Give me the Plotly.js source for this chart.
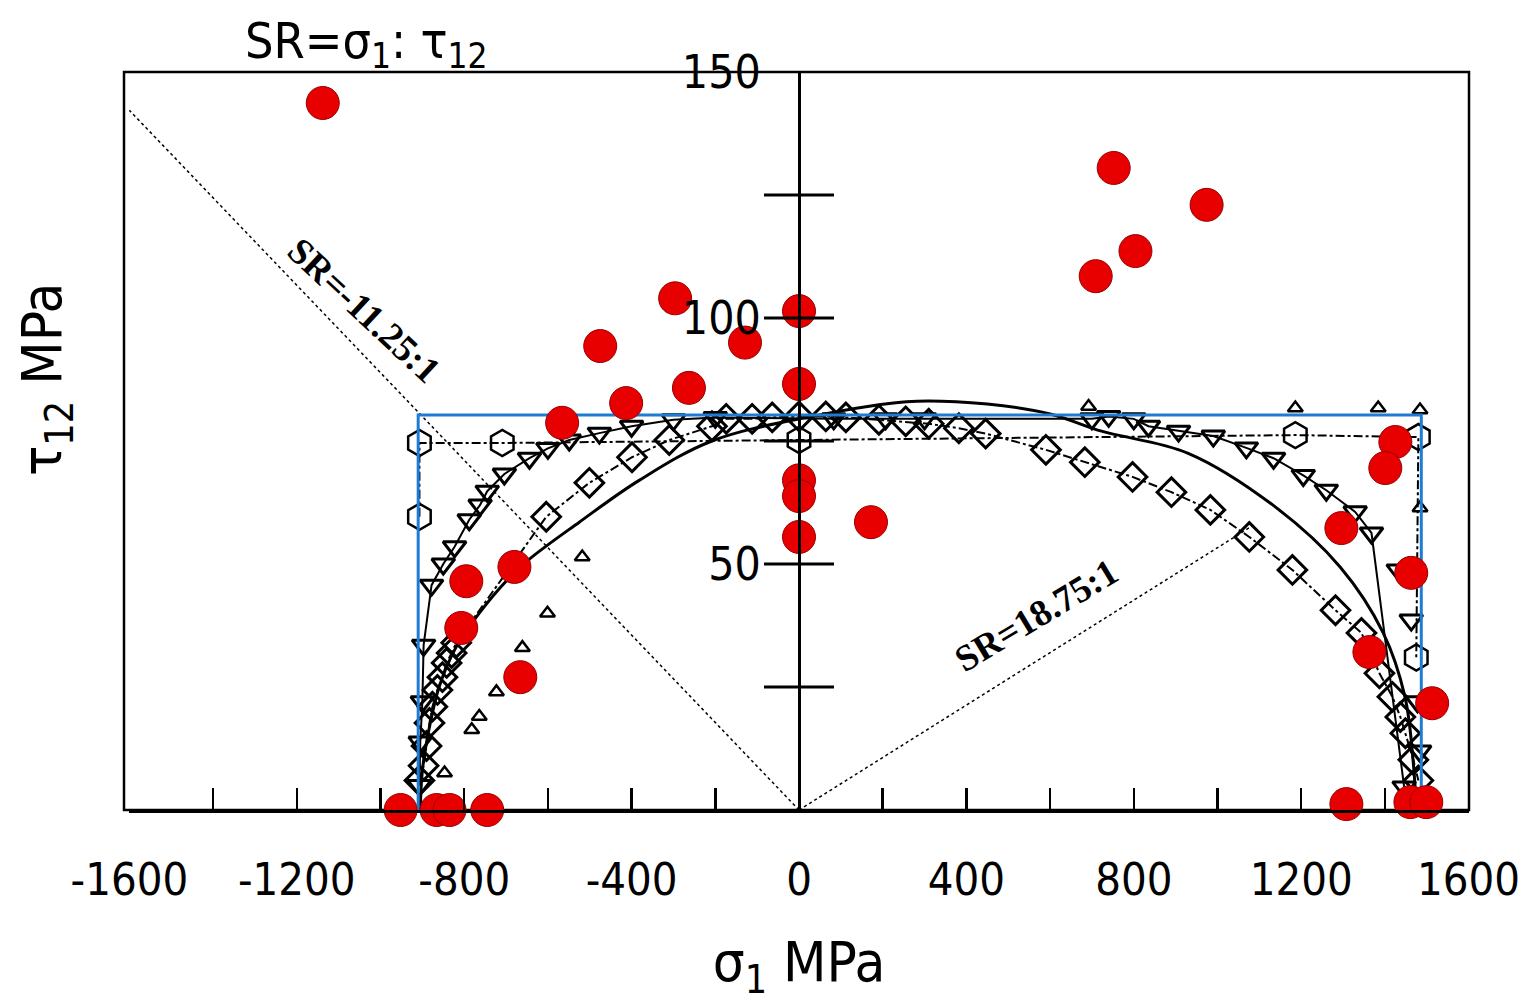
<!DOCTYPE html>
<html>
<head>
<meta charset="utf-8">
<script src="https://cdn.plot.ly/plotly-3.0.1.min.js"></script>
<style>html,body{margin:0;padding:0;background:#fff}#chart{width:1519px;height:1002px}</style>
</head>
<body>
<div id="chart"></div>
<script>
// ---- data ----
const xTickVals = [-1600, -1200, -800, -400, 0, 400, 800, 1200, 1600];
const xTickText = ["-1600", "-1200", "-800", "-400", "0", "400", "800", "1200", "1600"];
const yTickVals = [50, 100, 150];
const yTickText = ["50", "100", "150"];
const yCrossTicks = [25, 50, 75, 100, 125];

// stress-ratio guide lines (SR = sigma1 : tau12)
const srLeftX = [0, -1600];
const srLeftY = [0, 142.2];
const srRightX = [0, 1086];
const srRightY = [0, 57.9];

// experimental points (red)
const redX = [-1138, 752, 974, 804, 709, -296, 0, -475, -129, -263, 0, -413, -566, 1425, 1401, 0, 0, 172, 1296, 0, -680, -795, 1463, -807, 1363, -666, 1513, -952, -866, -835, -745, 1308, 1461, 1499];
const redY = [143.7, 130.5, 123, 113.6, 108.5, 104, 101.4, 94.3, 95, 85.8, 86.6, 82.7, 78.7, 74.8, 69.5, 67, 63.8, 58.5, 57.3, 55.5, 49.4, 46.5, 48.2, 37, 32.1, 27, 21.7, 0, 0, 0, 0, 1.2, 1.6, 1.6];

// blue envelope (max-stress box)
const boxX = [-910, -910, 1487, 1487];
const boxY = [0, 80.3, 80.3, 0];

// theory: hexagons (dash-dot)
const hexX = [-907, -907, -709, 0, 1186, 1480, 1475];
const hexY = [59.6, 74.6, 74.6, 75.2, 76.2, 75.8, 31];

// theory: down-triangles (solid)
const dtriX = [-907, -905, -900, -897, -878, -850, -823, -788, -762, -745, -704, -644, -600, -549, -477, -400, -300, -200, 83, 207, 300, 700, 740, 800, 835, 907, 990, 1069, 1134, 1205, 1260, 1329, 1368, 1446];
const dtriY = [5, 13.8, 22, 33.5, 45.7, 50, 53.5, 59, 62, 64.8, 68.3, 71.5, 73.5, 75.2, 76.6, 78, 79.3, 79.8, 79.5, 79.5, 79.5, 79.5, 80, 79.5, 78, 77, 76, 73.6, 71.5, 68, 65, 60.6, 56.3, 4.7];
const dtriExtraX = [1432, 1463, 1478, 1483];
const dtriExtraY = [48.8, 38.6, 22, 12];

// theory: diamonds (dash-dot)
const diaX = [-907, -897, -890, -883, -876, -864, -852, -842, -830, -819, -604, -501, -399, -310, -208, -174, -112, -64, 0, 64, 112, 191, 255, 310, 382, 446, 590, 683, 797, 890, 983, 1076, 1179, 1282, 1344, 1387, 1418, 1437, 1449, 1468, 1480];
const diaY = [6, 9, 13, 17.7, 21, 24.4, 27, 29.9, 31.9, 34, 59.6, 66.5, 71.7, 75.2, 78, 79.5, 79.5, 79.8, 80, 80, 79.8, 79.3, 79, 78.5, 77.6, 76.5, 73.2, 70.7, 67.7, 64.6, 61, 55.5, 48.8, 40.6, 36, 27.8, 23, 18.9, 15.6, 10.2, 6];

// theory: small up-triangles
const utriX = [-847, -782, -764, -723, -661, -601, -518, 692, 1186, 1384, 1484, 1484];
const utriY = [7.5, 16.3, 19, 24, 33, 40, 51.4, 82, 81.7, 81.7, 81.3, 61.4];

// theory: smooth solid curve
const curveX = [-905, -900, -885, -860, -820, -764, -700, -644, -525, -382, -208, 31, 257, 450, 600, 723, 930, 1138, 1293, 1396, 1448, 1468, 1475];
const curveY = [0, 8, 16, 25, 33, 40, 46.5, 51, 58.5, 67, 75, 80, 83, 82.5, 80.5, 77, 72.5, 61.6, 49.4, 36, 23, 9.5, 0];

// ---- chart ----
const FONT = "'DejaVu Sans Condensed', 'Liberation Sans', Arial, sans-serif";
const SERIF = "'Liberation Serif', 'Times New Roman', serif";

const traces = [
  {x: srLeftX, y: srLeftY, mode: 'lines', line: {color: '#000', width: 1.5, dash: 'dot'}, hoverinfo: 'skip'},
  {x: srRightX, y: srRightY, mode: 'lines', line: {color: '#000', width: 1.5, dash: 'dot'}, hoverinfo: 'skip'},
  {x: curveX, y: curveY, mode: 'lines', line: {color: '#000', width: 3, shape: 'spline'}},
  {x: hexX, y: hexY, mode: 'lines+markers', line: {color: '#000', width: 2, dash: 'dashdot'},
   marker: {symbol: 'hexagon-open', size: 26, color: '#000', line: {width: 2.5}}},
  {x: dtriX, y: dtriY, mode: 'lines+markers', line: {color: '#000', width: 2},
   marker: {symbol: 'triangle-down-open', size: 20, color: '#000', line: {width: 3}}},
  {x: dtriExtraX, y: dtriExtraY, mode: 'markers',
   marker: {symbol: 'triangle-down-open', size: 20, color: '#000', line: {width: 3}}},
  {x: diaX, y: diaY, mode: 'lines+markers', line: {color: '#000', width: 2, dash: 'dashdot'},
   marker: {symbol: 'diamond-open', size: 22, color: '#000', line: {width: 3}}},
  {x: utriX, y: utriY, mode: 'markers',
   marker: {symbol: 'triangle-up-open', size: 13, color: '#000', line: {width: 2.5}}},
  {x: boxX, y: boxY, mode: 'lines', line: {color: 'rgb(30,125,210)', width: 3}},
  {x: redX, y: redY, mode: 'markers', cliponaxis: false,
   marker: {symbol: 'circle', size: 33, color: 'rgb(232,0,0)', line: {color: 'rgb(150,0,0)', width: 1}}},
  // crossing ticks on the sigma1 = 0 axis
  {x: yCrossTicks.map(() => 0), y: yCrossTicks, mode: 'markers', cliponaxis: false,
   marker: {symbol: 'line-ew', size: 50, line: {color: '#000', width: 3}}}
];

const L = 129, R = 50, T = 72, B = 192;
const layout = {
  width: 1519, height: 1002,
  paper_bgcolor: '#fff', plot_bgcolor: '#fff',
  showlegend: false,
  margin: {l: L, r: R, t: T, b: B},
  font: {family: FONT, color: '#000', size: 46},
  title: {
    text: 'SR=σ<sub>1</sub>: τ<sub>12</sub>',
    font: {family: FONT, size: 50, color: '#000'},
    x: 245 / 1519, xref: 'container', xanchor: 'left',
    y: 1 - 40 / 1002, yref: 'container', yanchor: 'middle'
  },
  xaxis: {
    range: [-1601, 1601],
    tickvals: xTickVals, ticktext: xTickText,
    ticklabeloverflow: 'allow',
    ticks: 'inside', ticklen: 22, tickwidth: 2.5, tickcolor: '#000',
    minor: {dtick: 200, tick0: 0, ticks: 'inside', ticklen: 22, tickwidth: 2.5, tickcolor: '#000'},
    showgrid: false, zeroline: false,
    showline: true, linecolor: '#000', linewidth: 3,
    tickfont: {family: FONT, size: 45, color: '#000'},
    ticklabelstandoff: 28,
    title: {text: 'σ<sub>1</sub> MPa', font: {family: FONT, size: 56, color: '#000'}, standoff: 42}
  },
  yaxis: {
    range: [0, 150],
    anchor: 'free', position: 0.5,
    tickvals: yTickVals, ticktext: yTickText,
    ticks: '', showgrid: false, zeroline: false,
    showline: true, linecolor: '#000', linewidth: 3,
    tickfont: {family: FONT, size: 46, color: '#000'},
    ticklabelstandoff: 28,
    title: {text: ''}
  },
  shapes: [
    {type: 'rect', xref: 'paper', yref: 'paper', x0: -5 / (1519 - L - R), x1: 1, y0: 0, y1: 1,
     line: {color: '#000', width: 2.5}, layer: 'below'}
  ],
  annotations: [
    {text: 'τ<sub>12</sub> MPa', xref: 'paper', yref: 'paper', x: (45 - L) / (1519 - L - R), xanchor: 'center',
     y: (810 - 380) / 738, yanchor: 'middle', showarrow: false, textangle: -90,
     font: {family: FONT, size: 56, color: '#000'}},
    {text: '<b>SR=-11.25:1</b>', x: -1038, y: 101.6, showarrow: false, textangle: 43,
     font: {family: SERIF, size: 37, color: '#000'}},
    {text: '<b>SR=18.75:1</b>', x: 566, y: 39.6, showarrow: false, textangle: -31,
     font: {family: SERIF, size: 37, color: '#000'}}
  ]
};

Plotly.newPlot('chart', traces, layout, {displayModeBar: false, staticPlot: true});
</script>
</body>
</html>
